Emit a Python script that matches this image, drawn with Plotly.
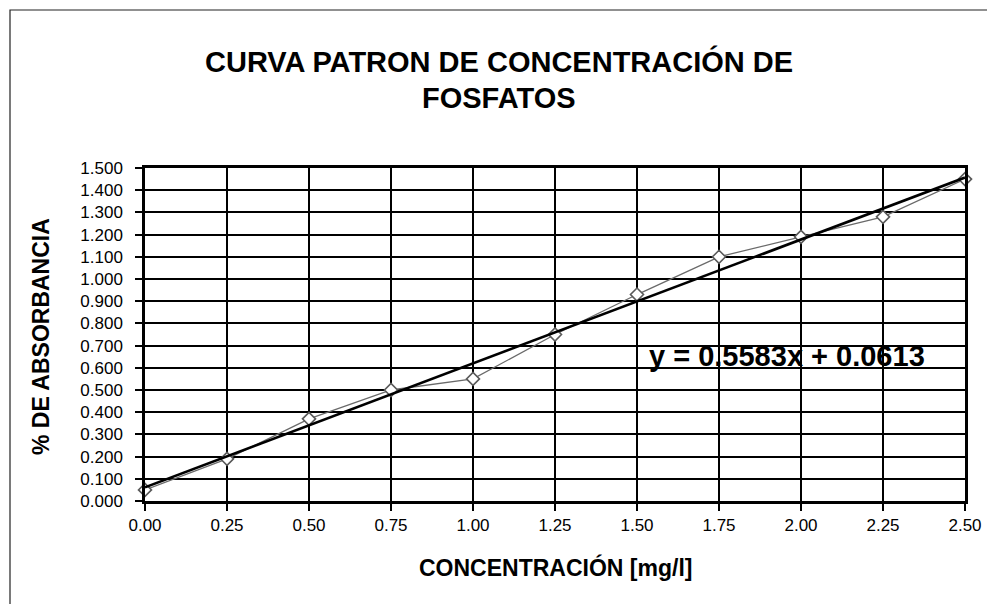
import plotly.graph_objects as go

# ---- data ----
concentracion = [0.00, 0.25, 0.50, 0.75, 1.00, 1.25, 1.50, 1.75, 2.00, 2.25, 2.50]
absorbancia = [0.05, 0.19, 0.37, 0.50, 0.55, 0.75, 0.93, 1.10, 1.19, 1.28, 1.45]
pendiente = 0.5583
intercepto = 0.0613
x_ticks = [0.00, 0.25, 0.50, 0.75, 1.00, 1.25, 1.50, 1.75, 2.00, 2.25, 2.50]
x_ticktext = ["0.00", "0.25", "0.50", "0.75", "1.00", "1.25", "1.50", "1.75", "2.00", "2.25", "2.50"]
y_ticks = [i / 10 for i in range(16)]
y_ticktext = ["%.3f" % v for v in y_ticks]

titulo_1 = "CURVA PATRON DE CONCENTRACIÓN DE"
titulo_2 = "FOSFATOS"
titulo_x = "CONCENTRACIÓN [mg/l]"
titulo_y = "% DE ABSORBANCIA"
ecuacion = "y = %.4fx + %.4f" % (pendiente, intercepto)

FONT = "Liberation Sans, Arial, sans-serif"

x_fit = [min(concentracion), max(concentracion)]
y_fit = [pendiente * x + intercepto for x in x_fit]

fig = go.Figure()
fig.add_trace(go.Scatter(
    x=concentracion, y=absorbancia, mode="lines+markers",
    line=dict(color="#6a6a6a", width=1.3),
    marker=dict(symbol="diamond", size=10, color="white",
                line=dict(color="#5a5a5a", width=1.6)),
    showlegend=False, cliponaxis=False,
))
fig.add_trace(go.Scatter(
    x=x_fit, y=y_fit, mode="lines",
    line=dict(color="black", width=2.6),
    showlegend=False, cliponaxis=False,
))

axis_common = dict(
    showgrid=True, gridcolor="black", gridwidth=1.5,
    showline=True, linecolor="black", linewidth=2.5, mirror=True,
    ticks="outside", ticklen=7, tickcolor="black", tickwidth=1.5,
    zeroline=False,
    tickfont=dict(family=FONT, size=17, color="black"),
)

fig.update_xaxes(range=[0, 2.5], tickvals=x_ticks, ticktext=x_ticktext,
                 ticklabelstandoff=0, **axis_common)
fig.update_yaxes(range=[0, 1.5], tickvals=y_ticks, ticktext=y_ticktext,
                 ticklabelstandoff=9, **axis_common)

# page body adds an 8px offset; plot area targets screen 145..965 x 168..501
ML, MT = 137, 160
PW, PH = 820, 333


def px(xs):
    return (xs - 8 - ML) / PW


def py(ys):
    return (MT + PH - (ys - 8)) / PH


fig.update_layout(
    width=995, height=604,
    margin=dict(l=ML, r=995 - ML - PW, t=MT, b=604 - MT - PH),
    paper_bgcolor="white", plot_bgcolor="white",
    annotations=[
        dict(text="<b>" + titulo_1 + "</b>", xref="paper", yref="paper",
             x=px(499), y=py(61), xanchor="center", yanchor="middle", showarrow=False,
             borderpad=0, font=dict(family=FONT, size=29, color="black")),
        dict(text="<b>" + titulo_2 + "</b>", xref="paper", yref="paper",
             x=px(499), y=py(98), xanchor="center", yanchor="middle", showarrow=False,
             borderpad=0, font=dict(family=FONT, size=29, color="black")),
        dict(text="<b>" + titulo_x + "</b>", xref="paper", yref="paper",
             x=px(555), y=py(567), xanchor="center", yanchor="middle", showarrow=False,
             font=dict(family=FONT, size=23, color="black")),
        dict(text="<b>" + titulo_y + "</b>", xref="paper", yref="paper",
             x=px(41), y=py(337), xanchor="center", yanchor="middle", showarrow=False,
             textangle=-90, font=dict(family=FONT, size=23, color="black")),
        dict(text="<b>" + ecuacion + "</b>", xref="x", yref="y",
             x=1.957, y=0.653, xanchor="center", yanchor="middle", showarrow=False,
             font=dict(family=FONT, size=29, color="black")),
    ],
    shapes=[
        dict(type="rect", xref="paper", yref="paper",
             x0=px(10), x1=px(1010), y0=py(640), y1=py(10),
             line=dict(color="#222222", width=1.2), layer="below"),
    ],
)

fig.write_html("out.html")
